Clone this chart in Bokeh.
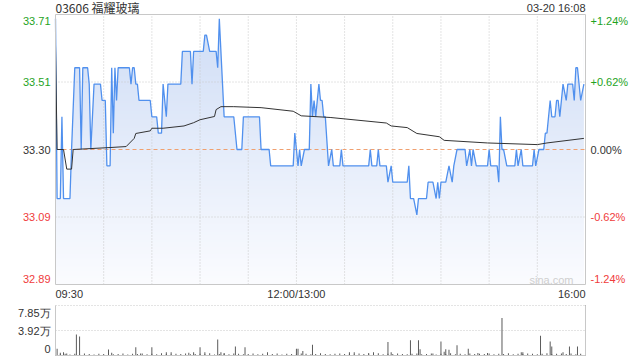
import numpy as np
from bokeh.plotting import figure
from bokeh.models import Range1d
from bokeh.core.properties import value
from bokeh.layouts import column
from bokeh.embed import file_html
from bokeh.resources import INLINE

# ---------------- data ----------------
title_text = "03606 福耀玻璃"
date_text = "03-20 16:08"
watermark = "sina.com"
prev_close = 33.30

# minutes since 09:30 (lunch break removed: 150 = 12:00/13:00, 330 = 16:00)
price_min = [0, 1, 3, 4, 5, 9, 10, 12, 15, 16, 17, 20, 21, 22, 24, 28, 29, 31, 32, 34,
             35, 36, 37, 38, 39, 46, 47, 48, 49, 50, 51, 52, 59, 60, 63, 64, 66, 67, 69, 70,
             78, 79, 84, 85, 86, 92, 93, 94, 96, 100, 101, 102, 104, 105, 111, 113, 116, 117, 127, 128,
             133, 134, 148, 149, 150, 151, 152, 153, 155, 158, 159, 160, 161, 162, 164, 165, 166, 167, 168, 170,
             172, 173, 177, 178, 179, 195, 196, 197, 200, 201, 202, 206, 207, 209, 210, 219, 220, 221, 223, 225,
             226, 231, 232, 235, 237, 238, 239, 240, 243, 245, 247, 248, 250, 255, 256, 258, 259, 260, 262, 269,
             270, 271, 275, 276, 277, 278, 279, 281, 286, 287, 288, 290, 291, 297, 298, 299, 301, 304, 305, 306,
             308, 309, 311, 312, 313, 314, 316, 318, 319, 322, 323, 324, 325, 327, 329]
price_val = [33.70, 33.15, 33.15, 33.40, 33.15, 33.15, 33.30, 33.55, 33.55, 33.30, 33.55, 33.55, 33.50, 33.30, 33.50, 33.50, 33.45, 33.45, 33.25, 33.25,
             33.55, 33.35, 33.55, 33.45, 33.55, 33.55, 33.50, 33.55, 33.55, 33.50, 33.50, 33.45, 33.45, 33.40, 33.40, 33.35, 33.35, 33.50, 33.40, 33.50,
             33.50, 33.60, 33.60, 33.50, 33.60, 33.60, 33.65, 33.65, 33.60, 33.60, 33.55, 33.70, 33.50, 33.40, 33.40, 33.30, 33.30, 33.40, 33.40, 33.30,
             33.30, 33.25, 33.25, 33.35, 33.30, 33.25, 33.30, 33.25, 33.30, 33.30, 33.50, 33.40, 33.45, 33.40, 33.50, 33.45, 33.45, 33.40, 33.40, 33.25,
             33.30, 33.25, 33.25, 33.30, 33.25, 33.25, 33.30, 33.25, 33.25, 33.30, 33.25, 33.25, 33.20, 33.25, 33.20, 33.20, 33.25, 33.15, 33.15, 33.10,
             33.15, 33.15, 33.20, 33.20, 33.15, 33.20, 33.15, 33.20, 33.20, 33.25, 33.20, 33.25, 33.30, 33.30, 33.25, 33.30, 33.25, 33.30, 33.25, 33.25,
             33.30, 33.25, 33.25, 33.20, 33.40, 33.30, 33.30, 33.25, 33.25, 33.30, 33.25, 33.30, 33.25, 33.25, 33.30, 33.25, 33.30, 33.30, 33.35, 33.35,
             33.45, 33.40, 33.40, 33.45, 33.45, 33.40, 33.50, 33.45, 33.50, 33.50, 33.45, 33.55, 33.55, 33.45, 33.50]

avg_min = [0, 1, 5, 7, 10, 11, 34, 44, 49, 50, 59, 60, 67, 80, 86, 90, 99, 100, 103, 111,
           128, 148, 153, 171, 206, 209, 219, 225, 239, 242, 269, 300, 306, 329]
avg_val = [33.62, 33.30, 33.30, 33.24, 33.24, 33.30, 33.306, 33.309, 33.334, 33.349, 33.357, 33.365, 33.365, 33.372, 33.382, 33.391, 33.401, 33.422, 33.431, 33.431,
           33.428, 33.417, 33.403, 33.398, 33.381, 33.372, 33.367, 33.349, 33.339, 33.328, 33.320, 33.315, 33.320, 33.334]

vol_min = [1, 3, 5, 7, 13, 15, 33, 35, 50, 53, 60, 69, 72, 83, 86, 90, 93, 101, 103, 105,
           112, 118, 132, 150, 151, 154, 160, 183, 186, 195, 198, 207, 209, 221, 226, 227, 235, 240, 242, 243,
           245, 250, 257, 263, 269, 278, 290, 291, 302, 308, 309, 316, 320, 325, 330]
vol_val = [10500, 4500, 5000, 3000, 33000, 30000, 9500, 4500, 13000, 3000, 13000, 5000, 5000, 4500, 5000, 13000, 5000, 25000, 5000, 4000,
           14000, 13000, 5000, 10500, 10500, 7000, 17000, 5000, 5000, 4000, 5000, 21000, 5000, 24000, 24000, 10000, 3000, 22000, 6000, 10000,
           9000, 16000, 10500, 4000, 4000, 59000, 5000, 5000, 31000, 22000, 14000, 5000, 14000, 14000, 78500]

small_vol_min = list(range(0, 330, 3))
small_vol_val = [3200, 2100, 2800, 1500, 2600, 1900, 3100, 2400, 1700, 2900,
                 2200, 3500, 1800, 2500, 3000, 1600, 2700, 2300, 3300, 1900,
                 2600, 2000, 3400, 2200, 1700, 2800, 2500, 3100, 1800, 2400,
                 2900, 2100, 3600, 1700, 2300, 2700, 2000, 3000, 2600, 1900,
                 2400, 3200, 1800, 2800, 2100, 2500, 3300, 1600, 2900, 2200,
                 2000, 3100, 2700, 1800, 2400, 3500, 2200, 1900, 2600, 3000,
                 2300, 2800, 1700, 3200, 2500, 2100, 2900, 3400, 1800, 2600,
                 2200, 3000, 2400, 1900, 2700, 3300, 2000, 2500, 3100, 1700,
                 2800, 2300, 3600, 2100, 2600, 1900, 3000, 2400, 2800, 2200,
                 3200, 1800, 2700, 2500, 3400, 2000, 2900, 2300, 3100, 2600,
                 1900, 2800, 3500, 2200, 2700, 3000, 2400, 3300, 2100, 2900]

session_minutes = 330
x_tick_min = [0, 150, 330]
x_tick_labels = ["09:30", "12:00/13:00", "16:00"]
x_grid_min = [30, 60, 90, 120, 150, 180, 210, 240, 270, 300]
pct_levels = [0.0124, 0.0062, 0.0, -0.0062, -0.0124]
left_tick_labels = ["33.71", "33.51", "33.30", "33.09", "32.89"]
right_tick_labels = ["+1.24%", "+0.62%", "0.00%", "-0.62%", "-1.24%"]
vol_max = 78500
vol_ticks = [78500, 39250, 0]
vol_tick_labels = ["7.85万", "3.92万", "0"]

# ---------------- layout / styles ----------------
GREEN = "#1ea31e"
RED = "#f03c3c"
TEXT = "#333333"
GRID = "#c8c8c8"
BORDER = "#c8c8c8"
LINE_BLUE = "#5090ee"
FONT = value("Liberation Sans")
FS = value("11px")

W = 640
PL, PR = 55, 55            # plot area left/right margins (px)
H1, PT1, PB1 = 300, 14, 16  # price panel height, top/bottom margins
H2, PT2, PB2 = 60, 5, 5     # volume panel

kx = (W - PL - PR) / session_minutes          # px per minute
x_lo_r = -PL / kx
x_hi_r = session_minutes + PR / kx

y_hi = prev_close * (1 + pct_levels[0])
y_lo = prev_close * (1 + pct_levels[-1])
ky = (H1 - PT1 - PB1) / (y_hi - y_lo)         # px per price unit

p = figure(width=W, height=H1,
           x_range=Range1d(x_lo_r, x_hi_r),
           y_range=Range1d(y_lo - PB1 / ky, y_hi + PT1 / ky),
           x_axis_type=None, y_axis_type=None, toolbar_location=None, output_backend="svg",
           min_border=0, outline_line_color=None,
           background_fill_color="white", border_fill_color="white")
p.title.visible = False
p.grid.visible = False

# gradient under the price line: gradient image, white above the line
n = 200
top_c = np.array([0xcf, 0xdd, 0xf6], dtype=float)
bot_c = np.array([0xfb, 0xfc, 0xff], dtype=float)
img = np.empty((n, 1), dtype=np.uint32)
view = img.view(dtype=np.uint8).reshape((n, 1, 4))
for i in range(n):
    c = bot_c + (top_c - bot_c) * (i / (n - 1))
    view[i, 0, 0] = int(c[0]); view[i, 0, 1] = int(c[1]); view[i, 0, 2] = int(c[2]); view[i, 0, 3] = 255
p.image_rgba(image=[img], x=0, y=y_lo, dw=price_min[-1], dh=y_hi - y_lo)
p.varea(x=price_min, y1=price_val, y2=[y_hi] * len(price_min), fill_color="white")

# grid lines
gx = x_grid_min
p.segment(x0=gx, x1=gx, y0=[y_lo] * len(gx), y1=[y_hi] * len(gx), line_color=GRID, line_dash="1 2")
gy = [prev_close * (1 + pct_levels[1]), prev_close * (1 + pct_levels[3])]
p.segment(x0=[0, 0], x1=[session_minutes] * 2, y0=gy, y1=gy, line_color=GRID, line_dash="1 2")
p.segment(x0=[0], x1=[session_minutes], y0=[prev_close], y1=[prev_close], line_color="#f0a070", line_dash="4 3")

p.line(price_min, price_val, line_color=LINE_BLUE, line_width=1.3)
p.line(avg_min, avg_val, line_color="#333333", line_width=1)

# frame border
p.multi_line(xs=[[0, session_minutes, session_minutes, 0, 0]], ys=[[y_lo, y_lo, y_hi, y_hi, y_lo]],
             line_color=BORDER, line_width=1)

# tick labels (as text)
lx, ly, lt, la, lc, lb = [], [], [], [], [], []
for i, pct in enumerate(pct_levels):
    yv = prev_close * (1 + pct)
    if i == 0:
        yv -= 6 / ky
    elif i == len(pct_levels) - 1:
        yv += 6 / ky
    col = GREEN if pct > 0 else (RED if pct < 0 else TEXT)
    lx += [-5 / kx, session_minutes + 5 / kx]
    ly += [yv, yv]
    lt += [left_tick_labels[i], right_tick_labels[i]]
    la += ["right", "left"]
    lc += [col, col]
p.text(x=lx, y=ly, text=lt, text_align=la, text_color=lc, text_baseline="middle",
       text_font=FONT, text_font_size=FS)

p.text(x=x_tick_min, y=[y_lo - 9 / ky] * 3, text=x_tick_labels, text_align=["left", "center", "right"],
       text_color=TEXT, text_baseline="middle", text_font=FONT, text_font_size=FS)

p.text(x=[0], y=[y_hi + 7 / ky], text=[title_text], text_align="left", text_baseline="middle",
       text_color=TEXT, text_font=value("Noto Sans CJK SC"), text_font_size=value("12px"))
p.text(x=[session_minutes], y=[y_hi + 7 / ky], text=[date_text], text_align="right", text_baseline="middle",
       text_color=TEXT, text_font=FONT, text_font_size=FS)
p.text(x=[session_minutes - 12 / kx], y=[y_lo + 5 / ky], text=[watermark], text_align="right",
       text_baseline="middle", text_color="#cfcfcf", text_font=FONT, text_font_size=FS)

# ---------------- volume ----------------
kv = (H2 - PT2 - PB2) / vol_max
v = figure(width=W, height=H2, x_range=p.x_range,
           y_range=Range1d(-PB2 / kv, vol_max + PT2 / kv),
           x_axis_type=None, y_axis_type=None, toolbar_location=None, output_backend="svg",
           min_border=0, outline_line_color=None,
           background_fill_color="white", border_fill_color="white")
v.title.visible = False
v.grid.visible = False

vg = vol_ticks[:2]
v.segment(x0=[0] * 2, x1=[session_minutes] * 2, y0=vg, y1=vg, line_color=GRID, line_dash="1 2")
v.vbar(x=small_vol_min, top=small_vol_val, width=0.6, fill_color="#555555", line_color=None)
v.vbar(x=vol_min, top=vol_val, width=0.6, fill_color="#555555", line_color=None)
v.segment(x0=[0, session_minutes, 0], x1=[0, session_minutes, session_minutes],
          y0=[0, 0, 0], y1=[vol_max, vol_max, 0], line_color=BORDER, line_width=1)

vy = []
for yv in vol_ticks:
    if yv == vol_max:
        vy.append(yv - 7 / kv)
    elif yv == 0:
        vy.append(yv + 7 / kv)
    else:
        vy.append(yv)
v.text(x=[-5 / kx] * 3, y=vy, text=vol_tick_labels, text_align="right", text_baseline="middle",
       text_color=TEXT, text_font=FONT, text_font_size=FS)

layout = column(p, v, spacing=0)
open("out.html", "w").write(file_html(layout, INLINE))
